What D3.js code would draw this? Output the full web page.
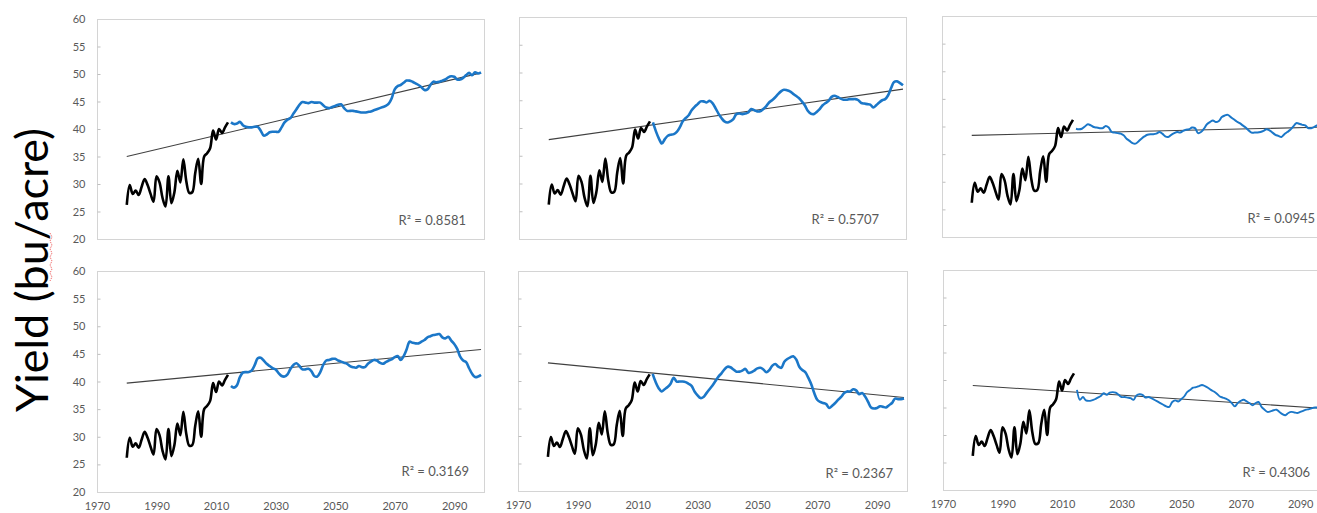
<!DOCTYPE html>
<html>
<head>
<meta charset="utf-8">
<script src="https://cdn.jsdelivr.net/npm/d3@7/dist/d3.min.js"></script>
<style>
  body { margin: 0; background: #fff; }
  svg { display: block; }
</style>
</head>
<body>
<svg id="chart" width="1317" height="513"></svg>
<script>
// Observed yields 1980-2014 (bu/acre), shared by every panel
const histYears = d3.range(1980, 2015);
const histYield = [
  26.2, 29.8, 28.2, 28.8, 28.0, 29.5, 30.9, 29.8, 28.2, 26.8,
  31.4, 30.3, 27.5, 25.9, 31.4, 26.5, 28.5, 32.4, 30.3, 34.5,
  30.5, 28.4, 28.5, 32.0, 34.6, 30.0, 35.0, 35.6, 36.5, 39.7,
  38.1, 40.0, 39.3, 40.3, 41.2
];

// Projected yields 2015-2099, one series per panel
const projYears = d3.range(2015, 2100);
const projA = [
  41.2, 40.9, 41.0, 41.3, 40.7,
  40.4, 40.3, 40.3, 40.4, 40.4, 39.7, 38.8, 39.0, 39.4, 39.5,
  39.5, 39.5, 40.3, 41.2, 41.7, 42.0, 42.8, 43.6, 44.4, 44.9,
  44.8, 44.7, 44.9, 44.8, 44.8, 44.8, 44.3, 43.9, 43.8, 44.0,
  44.2, 44.4, 44.5, 43.8, 43.3, 43.3, 43.3, 43.2, 43.1, 43.0,
  43.0, 43.1, 43.2, 43.4, 43.6, 43.8, 44.0, 44.2, 44.6, 45.6,
  47.2, 47.8, 48.0, 48.4, 48.8, 48.8, 48.6, 48.3, 48.0, 47.6,
  47.1, 47.2, 48.0, 48.6, 48.5, 48.6, 48.8, 49.0, 49.4, 49.6,
  49.5, 49.0, 49.0, 49.3, 49.8, 50.2, 49.8, 50.3, 50.1, 50.3
];
const projB = [
  41.0, 39.4, 38.1, 37.2, 38.0,
  38.6, 38.8, 38.9, 39.3, 40.1, 41.2, 41.8, 42.3, 43.2, 43.8,
  44.3, 44.8, 44.8, 44.6, 44.9, 44.5, 43.6, 42.6, 41.8, 41.2,
  41.0, 41.2, 41.6, 42.5, 42.6, 42.5, 42.6, 42.8, 43.4, 43.2,
  43.0, 43.0, 43.4, 43.9, 44.6, 45.0, 45.5, 46.1, 46.6, 46.9,
  46.8, 46.6, 46.2, 45.8, 45.4, 44.8, 44.1, 43.1, 42.6, 42.5,
  42.9, 43.4, 44.1, 44.5, 44.9, 45.6, 45.8, 45.6, 45.3, 45.1,
  45.1, 45.2, 45.2, 45.2, 45.0, 44.5, 44.4, 44.3, 44.2, 43.7,
  44.1, 44.6, 45.0, 45.2, 45.9, 47.2, 48.3, 48.4, 48.1, 47.7
];
const projC = [
  39.6, 39.5, 39.6, 40.0, 40.4,
  40.2, 39.9, 39.8, 39.7, 39.7, 40.1, 39.8, 39.0, 38.9, 38.8,
  38.7, 38.4, 37.8, 37.4, 37.0, 36.9, 37.3, 37.8, 38.2, 38.5,
  38.6, 38.6, 38.7, 39.0, 38.7, 38.2, 38.1, 38.5, 38.8, 39.0,
  38.9, 39.2, 39.4, 39.5, 39.8, 39.7, 38.8, 39.0, 39.6, 40.4,
  40.8, 41.1, 40.8, 41.0, 41.7, 42.0, 42.1, 41.7, 41.3, 40.9,
  40.6, 40.2, 39.8, 39.3, 38.9, 38.9, 38.9, 39.0, 39.2, 39.5,
  39.3, 38.9, 38.5, 38.3, 38.1, 38.6, 39.0, 39.4, 40.0, 40.6,
  40.5, 40.3, 40.2, 39.7, 39.7, 39.9, 40.2, 40.4, 40.5, 40.6
];
const projD = [
  39.2, 38.9, 39.3, 40.8, 41.6,
  41.7, 41.7, 42.0, 43.0, 44.2, 44.3, 43.8, 43.2, 42.8, 42.4,
  42.2, 41.5, 41.0, 40.9, 41.3, 42.3, 43.0, 43.3, 42.8, 42.2,
  42.2, 42.3, 41.9, 41.0, 40.9, 41.7, 43.0, 43.8, 43.9, 44.1,
  44.1, 43.8, 43.6, 43.4, 43.2, 42.8, 42.6, 42.5, 42.8, 42.6,
  42.6, 43.2, 43.6, 43.9, 43.8, 43.4, 43.2, 43.5, 43.8, 44.0,
  44.4, 44.6, 43.9, 44.6, 45.8, 47.2, 47.0, 46.9, 46.9, 47.2,
  47.5, 48.0, 48.2, 48.4, 48.5, 48.6, 48.0, 47.8, 48.1, 47.4,
  46.8, 45.9, 44.5, 43.8, 43.5, 42.4, 41.4, 40.8, 40.9, 41.2
];
const projE = [
  41.3, 39.8, 38.7, 38.1, 38.5,
  38.9, 39.5, 40.6, 39.9, 39.9, 39.9, 39.8, 39.5, 39.1, 38.1,
  37.4, 36.9, 37.1, 37.8, 38.5, 39.2, 40.0, 40.8, 41.4, 42.1,
  42.6, 42.5, 42.1, 41.7, 41.7, 41.9, 42.2, 41.5, 41.6, 41.9,
  42.3, 42.4, 42.1, 41.6, 42.0, 42.8, 43.1, 42.6, 42.4, 43.5,
  44.0, 44.3, 44.5, 43.9, 42.6, 42.0, 41.6, 40.6, 39.4, 37.8,
  36.6, 36.2, 36.0, 35.8, 35.1, 35.5, 36.0, 36.6, 37.1, 37.8,
  38.1, 38.1, 38.5, 38.3, 37.6, 37.8, 37.2, 36.2, 35.2, 35.0,
  35.1, 35.4, 35.3, 35.2, 35.6, 36.0, 36.8, 36.7, 36.7, 36.8
];
const projF = [
  38.2, 36.4, 36.9, 36.3, 36.2,
  36.3, 36.5, 36.8, 37.1, 37.6, 37.3, 37.7, 37.8, 37.7, 37.3,
  36.9, 36.9, 36.8, 36.7, 36.4, 37.2, 37.4, 37.3, 36.8, 36.9,
  36.7, 36.4, 36.1, 35.8, 35.5, 35.2, 35.1, 36.0, 36.3, 36.1,
  36.5, 37.0, 37.8, 38.2, 38.6, 38.7, 38.9, 39.1, 38.9, 38.6,
  38.2, 37.9, 37.5, 37.0, 36.8, 36.6, 36.3, 35.8, 35.2, 35.8,
  36.2, 36.4, 36.1, 35.8, 35.4, 35.8, 36.0, 35.1, 34.6, 34.2,
  34.3, 34.5, 34.6, 34.2, 33.8, 33.6, 34.0, 34.2, 34.1, 34.0,
  34.2, 34.4, 34.6, 34.7, 34.9, 35.0, 35.0, 35.1, 35.2, 35.2
];

// Linear trend lines: yield at each end year
const trendYears = [1980, 2099];
const trendA = [35.0, 50.2];
const trendB = [37.9, 47.0];
const trendC = [38.4, 39.9];
const trendD = [39.7, 45.8];
const trendE = [43.3, 37.0];
const trendF = [39.0, 34.8];

const r2Labels = ["R\u00B2 = 0.8581", "R\u00B2 = 0.5707", "R\u00B2 = 0.0945",
                  "R\u00B2 = 0.3169", "R\u00B2 = 0.2367", "R\u00B2 = 0.4306"];

const yTicks = [20, 25, 30, 35, 40, 45, 50, 55, 60];
const xTicks = [1970, 1990, 2010, 2030, 2050, 2070, 2090];
const yTitle = "Yield (bu/acre)";

// Panel frames (plot areas), which axes carry labels, projection line weight
const layout = [
  { x0: 97,  x1: 484,  y0: 19,  y1: 239, yLab: true,  xLab: false, r2x: 466,  r2y: 225, w: 2.6 },
  { x0: 519, x1: 906,  y0: 17,  y1: 239, yLab: false, xLab: false, r2x: 879,  r2y: 224, w: 2.6 },
  { x0: 942, x1: 1329, y0: 16,  y1: 237, yLab: false, xLab: false, r2x: 1315, r2y: 223, w: 2.0 },
  { x0: 97,  x1: 484,  y0: 271, y1: 492, yLab: true,  xLab: true,  r2x: 469,  r2y: 476, w: 2.6 },
  { x0: 518, x1: 907,  y0: 271, y1: 491, yLab: false, xLab: true,  r2x: 893,  r2y: 478, w: 2.6 },
  { x0: 943, x1: 1330, y0: 270, y1: 490, yLab: false, xLab: true,  r2x: 1310, r2y: 477, w: 1.9 }
];
const projSeries = [projA, projB, projC, projD, projE, projF];
const trendSeries = [trendA, trendB, trendC, trendD, trendE, trendF];

const svg = d3.select("#chart");
const font = "Lato, 'Open Sans', sans-serif";
const grey = "#595959";

layout.forEach((p, i) => {
  const x = d3.scaleLinear().domain([1970, 2100]).range([p.x0, p.x1]);
  const y = d3.scaleLinear().domain([20, 60]).range([p.y1, p.y0]);
  const g = svg.append("g");

  // plot-area frame
  g.append("rect")
    .attr("x", p.x0 + 0.5).attr("y", p.y0 + 0.5)
    .attr("width", p.x1 - p.x0).attr("height", p.y1 - p.y0)
    .attr("fill", "none").attr("stroke", "#d4d4d4").attr("stroke-width", 1);

  // y axis
  const yAxis = d3.axisLeft(y).tickValues(yTicks).tickSize(-3).tickPadding(12)
    .tickFormat(p.yLab ? d3.format("d") : () => "");
  const ya = g.append("g").attr("transform", `translate(${p.x0 + 0.5},0)`).call(yAxis);
  ya.select(".domain").remove();
  ya.selectAll(".tick line").attr("stroke", "#bfbfbf")
    .filter(d => d === 20 || d === 60).remove();
  ya.selectAll(".tick text").attr("fill", grey).style("font", `11px ${font}`);

  // x axis labels (bottom row only)
  if (p.xLab) {
    const xAxis = d3.axisBottom(x).tickValues(xTicks).tickSize(0).tickPadding(10)
      .tickFormat(d3.format("d"));
    const xa = g.append("g").attr("transform", `translate(0,${p.y1})`).call(xAxis);
    xa.select(".domain").remove();
    xa.selectAll(".tick text").attr("fill", grey).style("font", `11px ${font}`);
  }

  const clipId = "clip" + i;
  svg.append("clipPath").attr("id", clipId).append("rect")
    .attr("x", p.x0).attr("y", p.y0 - 4).attr("width", p.x1 - p.x0 + 2).attr("height", p.y1 - p.y0 + 8);
  const plot = g.append("g").attr("clip-path", `url(#${clipId})`);

  const line = d3.line().x(d => x(d[0])).y(d => y(d[1])).curve(d3.curveCatmullRom.alpha(0.5));

  // trend line
  const t = trendSeries[i];
  plot.append("path")
    .datum(trendYears.map((yr, k) => [yr, t[k]]))
    .attr("d", d3.line().x(d => x(d[0])).y(d => y(d[1])))
    .attr("fill", "none").attr("stroke", "#404040").attr("stroke-width", 1.1);

  // observed series
  plot.append("path")
    .datum(histYears.map((yr, k) => [yr, histYield[k]]))
    .attr("d", line)
    .attr("fill", "none").attr("stroke", "#000").attr("stroke-width", 2.6)
    .attr("stroke-linejoin", "round");

  // projected series
  const s = projSeries[i];
  plot.append("path")
    .datum(projYears.map((yr, k) => [yr, s[k]]))
    .attr("d", line)
    .attr("fill", "none").attr("stroke", "#1b77c8").attr("stroke-width", p.w)
    .attr("stroke-linejoin", "round");

  // R-squared label
  g.append("text")
    .attr("x", p.r2x).attr("y", p.r2y)
    .attr("text-anchor", "end")
    .attr("fill", grey)
    .style("font", `13px ${font}`)
    .text(r2Labels[i]);
});

// shared y-axis title
svg.append("text")
  .attr("transform", "translate(48,270) rotate(-90)")
  .attr("text-anchor", "middle")
  .attr("fill", "#000")
  .attr("textLength", 284).attr("lengthAdjust", "spacingAndGlyphs")
  .style("font", `44px ${font}`)
  .text(yTitle);

// spelling underline beneath "bu/"
svg.append("path")
  .attr("d", d3.line()(d3.range(0, 13).map(k => [k % 2 ? 52 : 50, 233 + k * 4])))
  .attr("fill", "none").attr("stroke", "#f07070").attr("stroke-width", 1)
  .attr("stroke-dasharray", "1.5,1");
</script>
</body>
</html>
